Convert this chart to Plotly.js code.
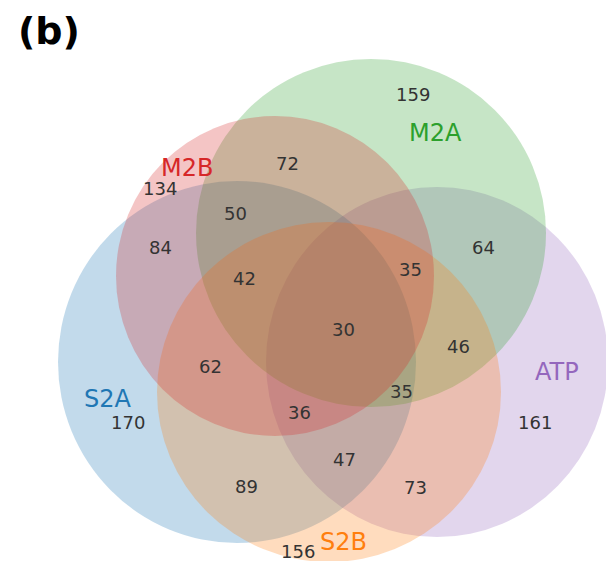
<!DOCTYPE html>
<html>
<head>
<meta charset="utf-8">
<script src="https://cdn.plot.ly/plotly-3.0.1.min.js"></script>
<style>html,body{margin:0;padding:0;background:#fff;}#chart{width:606px;height:561px;}</style>
</head>
<body>
<div id="chart"></div>
<script>
// ---- data ----
const setNames = ["ATP", "S2A", "M2A", "S2B", "M2B"];
const setColors = ["#9467bd", "#1f77b4", "#2ca02c", "#ff7f0e", "#d62728"];
// region counts
const regionCounts = [159, 72, 134, 50, 84, 64, 35, 42, 30, 46, 62, 35, 36, 170, 161, 47, 89, 73, 156];

// ---- layout geometry (pixel space) ----
const ellipses = [ // cx, cy, rx, ry  (same order as setNames)
  [437, 362, 171, 175],
  [237, 362, 179, 181],
  [371, 233, 175, 174],
  [329, 392, 172, 170],
  [275, 276, 159, 160]
];
const setLabelPos = [[557, 372], [108, 399], [435, 133], [343, 542], [187, 168]];
const regionPos = [
  [413, 94], [287, 163], [160, 188], [235, 213], [160, 247], [483, 247], [410, 269],
  [244, 278], [343, 329], [458, 346], [210, 366], [401, 391], [299, 412], [128, 422],
  [535, 422], [344, 459], [246, 486], [415, 487], [298, 551]
];

function rgba(hex, a) {
  const r = parseInt(hex.slice(1, 3), 16), g = parseInt(hex.slice(3, 5), 16), b = parseInt(hex.slice(5, 7), 16);
  return `rgba(${r},${g},${b},${a})`;
}

const shapes = ellipses.map((e, i) => ({
  type: "circle", xref: "x", yref: "y",
  x0: e[0] - e[2], x1: e[0] + e[2], y0: e[1] - e[3], y1: e[1] + e[3],
  fillcolor: rgba(setColors[i], 0.27), line: {width: 0}, layer: "below"
}));

const annotations = [];
setNames.forEach((n, i) => annotations.push({
  x: setLabelPos[i][0], y: setLabelPos[i][1], xref: "x", yref: "y", text: n, showarrow: false,
  font: {family: "DejaVu Sans", size: 24, color: setColors[i]}, xanchor: "center", yanchor: "middle"
}));
regionCounts.forEach((c, i) => annotations.push({
  x: regionPos[i][0], y: regionPos[i][1], xref: "x", yref: "y", text: String(c), showarrow: false,
  font: {family: "DejaVu Sans", size: 18, color: "#333333"}, xanchor: "center", yanchor: "middle"
}));
annotations.push({
  x: 16, y: 31, xref: "x", yref: "y", text: "<b>(b)</b>", showarrow: false,
  font: {family: "DejaVu Sans", size: 38, color: "#000000"}, xanchor: "left", yanchor: "middle"
});

const layout = {
  width: 606, height: 561,
  margin: {l: 0, r: 0, t: 0, b: 0},
  paper_bgcolor: "#ffffff", plot_bgcolor: "#ffffff",
  xaxis: {range: [0, 606], visible: false, fixedrange: true},
  yaxis: {range: [561, 0], visible: false, fixedrange: true},
  showlegend: false,
  shapes: shapes,
  annotations: annotations
};

Plotly.newPlot("chart", [{x: [], y: [], type: "scatter", mode: "markers", hoverinfo: "skip"}], layout,
  {displayModeBar: false, staticPlot: true});
</script>
</body>
</html>
